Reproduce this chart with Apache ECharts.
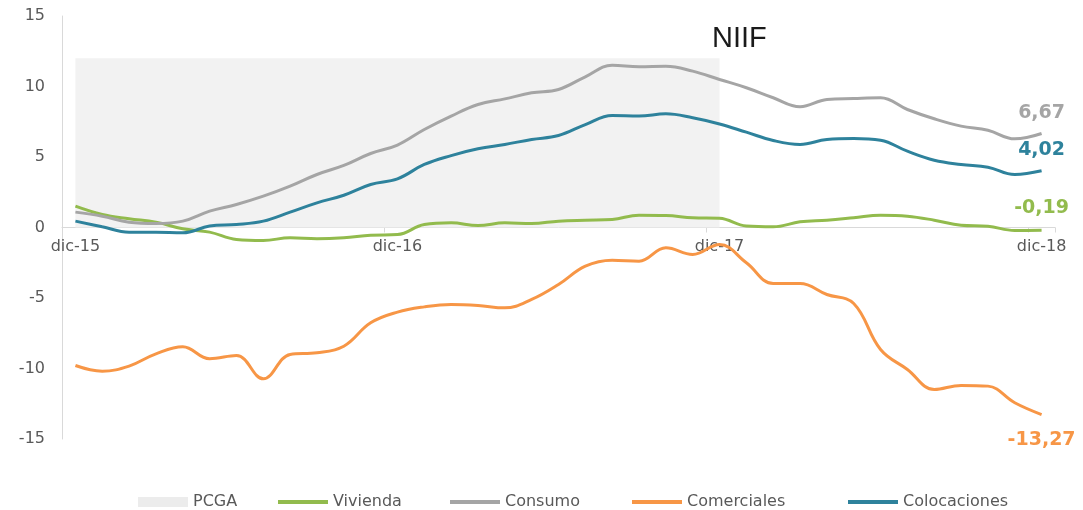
<!DOCTYPE html>
<html>
<head>
<meta charset="utf-8">
<script src="https://cdn.jsdelivr.net/npm/echarts@6/dist/echarts.min.js"></script>
<style>
  html, body { margin: 0; padding: 0; background: #fff; }
  #chart { width: 1083px; height: 510px; }
</style>
</head>
<body>
<div id="chart"></div>
<script>
// meses dic-15 .. dic-18
const months = [
  'dic-15', 'ene-16', 'feb-16', 'mar-16', 'abr-16', 'may-16', 'jun-16', 'jul-16', 'ago-16', 'sep-16', 'oct-16', 'nov-16',
  'dic-16', 'ene-17', 'feb-17', 'mar-17', 'abr-17', 'may-17', 'jun-17', 'jul-17', 'ago-17', 'sep-17', 'oct-17', 'nov-17',
  'dic-17', 'ene-18', 'feb-18', 'mar-18', 'abr-18', 'may-18', 'jun-18', 'jul-18', 'ago-18', 'sep-18', 'oct-18', 'nov-18',
  'dic-18'
];

// periodo PCGA (sombreado hasta dic-17)
const pcga = [
  12, 12, 12, 12, 12, 12, 12, 12, 12, 12, 12, 12,
  12, 12, 12, 12, 12, 12, 12, 12, 12, 12, 12, 12,
  12, null, null, null, null, null, null, null, null, null, null, null,
  null
];

const vivienda = [
  1.51, 0.92, 0.62, 0.38, -0.09, -0.33, -0.85, -0.92, -0.73, -0.80, -0.73, -0.55,
  -0.50, 0.21, 0.33, 0.14, 0.33, 0.28, 0.45, 0.52, 0.57, 0.87, 0.85, 0.69,
  0.65, 0.10, 0.05, 0.40, 0.52, 0.69, 0.87, 0.80, 0.52, 0.16, 0.09, -0.21,
  -0.19
];

const consumo = [
  1.09, 0.80, 0.38, 0.28, 0.45, 1.16, 1.63, 2.22, 2.93, 3.76, 4.40, 5.25,
  5.85, 6.95, 7.90, 8.72, 9.12, 9.55, 9.79, 10.69, 11.51, 11.40, 11.44, 11.09,
  10.50, 9.91, 9.20, 8.56, 9.08, 9.15, 9.20, 8.37, 7.71, 7.19, 6.90, 6.29,
  6.67
];

const comerciales = [
  -9.79, -10.19, -9.83, -8.96, -8.46, -9.31, -9.08, -10.73, -9.00, -8.89, -8.42, -6.76,
  -6.00, -5.63, -5.46, -5.53, -5.70, -5.10, -4.04, -2.74, -2.32, -2.39, -1.44, -1.91,
  -1.20, -2.50, -3.97, -3.97, -4.75, -5.39, -8.65, -10.07, -11.49, -11.20, -11.25, -12.43,
  -13.27
];

const colocaciones = [
  0.45, 0.05, -0.33, -0.33, -0.38, 0.10, 0.21, 0.45, 1.09, 1.75, 2.29, 3.05,
  3.45, 4.47, 5.10, 5.58, 5.89, 6.24, 6.52, 7.30, 7.94, 7.90, 8.06, 7.78,
  7.34, 6.76, 6.17, 5.89, 6.24, 6.31, 6.19, 5.41, 4.77, 4.47, 4.28, 3.76,
  4.02
];

const legendNames = ['PCGA', 'Vivienda', 'Consumo', 'Comerciales', 'Colocaciones'];
const legendLeft = [133, 273, 445, 627, 843];

const textColor = '#595959';
const font = 'DejaVu Sans';

// serie de linea con etiqueta en el ultimo dato
function lineSeries(name, values, color, labelPos, labelDist) {
  const last = values.length - 1;
  return {
    name: name,
    type: 'line',
    smooth: 0.4,
    symbol: 'circle',
    symbolSize: 0,
    showSymbol: true,
    z: 3,
    lineStyle: { color: color, width: 3 },
    itemStyle: { color: color },
    data: values.map(function (v, i) {
      if (i !== last) return v;
      return {
        value: v,
        label: {
          show: true,
          position: labelPos,
          distance: labelDist,
          color: color,
          fontFamily: font,
          fontWeight: 'bold',
          fontSize: 19,
          formatter: function (p) { return p.value.toFixed(2).replace('.', ','); }
        }
      };
    })
  };
}

// una leyenda por elemento para fijar su posicion
const legends = legendNames.map(function (name, i) {
  const isArea = name === 'PCGA';
  return {
    left: legendLeft[i],
    top: 489,
    itemWidth: 50,
    itemHeight: isArea ? 10 : 4,
    icon: 'rect',
    textStyle: { fontFamily: font, fontSize: 16, color: textColor },
    data: [isArea ? { name: name, itemStyle: { color: '#ececec' } } : name]
  };
});

const chart = echarts.init(document.getElementById('chart'));
chart.setOption({
  animation: false,
  title: {
    text: 'NIIF',
    left: 707,
    top: 19,
    textStyle: { fontFamily: 'Liberation Sans', fontSize: 29, fontWeight: 'normal', color: '#1a1a1a' }
  },
  grid: { left: 62, right: 28, top: 16, bottom: 71 },
  legend: legends,
  xAxis: {
    type: 'category',
    data: months,
    boundaryGap: true,
    position: 'bottom',
    offset: -211.5,
    axisLine: { onZero: false, lineStyle: { color: '#d9d9d9', width: 1 } },
    axisTick: { show: true, interval: 11, length: 5, lineStyle: { color: '#d9d9d9' } },
    axisLabel: { interval: 11, margin: 11, fontFamily: font, fontSize: 16, color: textColor }
  },
  yAxis: {
    type: 'value',
    min: -15,
    max: 15,
    interval: 5,
    splitLine: { show: false },
    axisLine: { show: true, onZero: false, lineStyle: { color: '#d9d9d9', width: 1 } },
    axisTick: { show: false },
    axisLabel: { margin: 17, fontFamily: font, fontSize: 16, color: textColor }
  },
  series: [
    {
      name: 'PCGA',
      type: 'line',
      symbol: 'none',
      z: 1,
      data: pcga,
      lineStyle: { width: 0, color: '#f2f2f2' },
      itemStyle: { color: '#ececec' },
      areaStyle: { color: '#f2f2f2', opacity: 1 }
    },
    lineSeries('Vivienda', vivienda, '#92bb4d', 'top', 13),
    lineSeries('Consumo', consumo, '#a5a5a5', 'top', 11),
    lineSeries('Comerciales', comerciales, '#f79646', 'bottom', 16),
    lineSeries('Colocaciones', colocaciones, '#2e829c', 'top', 11)
  ]
});
</script>
</body>
</html>
